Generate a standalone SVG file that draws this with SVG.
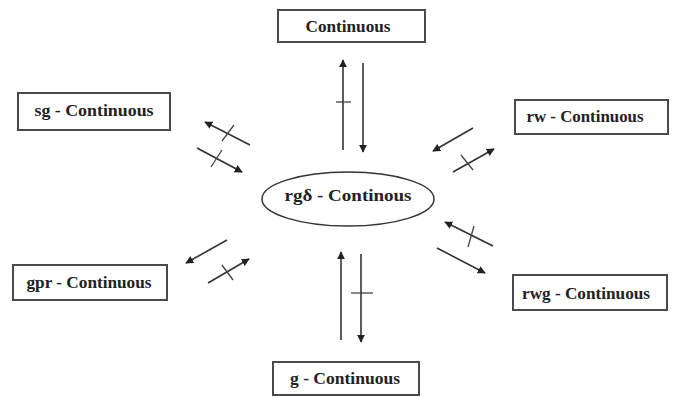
<svg xmlns="http://www.w3.org/2000/svg" width="675" height="397" viewBox="0 0 675 397">
<style>
.box{fill:#fff;stroke:#4a4a4a;stroke-width:2}
.lbl{font-family:"Liberation Serif","Times New Roman",serif;font-weight:bold;font-size:16px;fill:#222;text-anchor:middle}
.ln{stroke:#333;stroke-width:1.6;fill:none}
.tk{stroke:#444;stroke-width:1.3;fill:none}
</style>
<defs>
<marker id="ah" viewBox="0 0 10 10" refX="9" refY="5" markerWidth="8" markerHeight="8" markerUnits="userSpaceOnUse" orient="auto">
<path d="M0,0 L10,5 L0,10 z" fill="#222"/>
</marker>
</defs>
<rect width="675" height="397" fill="#fff"/>
<g id="top">
<rect class="box" x="278" y="10" width="147" height="32"/>
<text class="lbl" x="348" y="32" textLength="85" lengthAdjust="spacingAndGlyphs">Continuous</text>
</g>
<g id="sg">
<rect class="box" x="18" y="93" width="152" height="37"/>
<text class="lbl" x="94" y="116" textLength="119" lengthAdjust="spacingAndGlyphs">sg - Continuous</text>
</g>
<g id="rw">
<rect class="box" x="515" y="100" width="153" height="34"/>
<text class="lbl" x="585" y="122" textLength="117" lengthAdjust="spacingAndGlyphs">rw - Continuous</text>
</g>
<g id="center">
<ellipse cx="348" cy="199" rx="86" ry="27" fill="#fff" stroke="#333" stroke-width="1.5"/>
<text class="lbl" x="348" y="201" textLength="127" lengthAdjust="spacingAndGlyphs">rgδ - Continous</text>
</g>
<g id="gpr">
<rect class="box" x="13" y="265" width="154" height="35"/>
<text class="lbl" x="89" y="288" textLength="125" lengthAdjust="spacingAndGlyphs">gpr - Continuous</text>
</g>
<g id="rwg">
<rect class="box" x="513" y="275" width="154" height="35"/>
<text class="lbl" x="586" y="299" textLength="128" lengthAdjust="spacingAndGlyphs">rwg - Continuous</text>
</g>
<g id="g">
<rect class="box" x="273" y="362" width="146" height="33"/>
<text class="lbl" x="345" y="384" textLength="110" lengthAdjust="spacingAndGlyphs">g - Continuous</text>
</g>
<g id="connectors">
<line class="ln" x1="343" y1="150" x2="343" y2="60" marker-end="url(#ah)"/>
<line class="tk" x1="336" y1="102" x2="351" y2="102"/>
<line class="ln" x1="363" y1="63" x2="363" y2="152" marker-end="url(#ah)"/>
<line class="ln" x1="341" y1="340" x2="341" y2="252" marker-end="url(#ah)"/>
<line class="ln" x1="361" y1="254" x2="361" y2="342" marker-end="url(#ah)"/>
<line class="tk" x1="351" y1="293" x2="373" y2="293"/>
<line class="ln" x1="250" y1="145" x2="205" y2="122" marker-end="url(#ah)"/>
<line class="tk" x1="222" y1="141" x2="234" y2="125"/>
<line class="ln" x1="197" y1="148" x2="242" y2="172" marker-end="url(#ah)"/>
<line class="tk" x1="211" y1="167" x2="222" y2="150"/>
<line class="ln" x1="473" y1="128" x2="433" y2="151" marker-end="url(#ah)"/>
<line class="ln" x1="453" y1="172" x2="494" y2="149" marker-end="url(#ah)"/>
<line class="tk" x1="461" y1="155" x2="473" y2="170"/>
<line class="ln" x1="227" y1="240" x2="186" y2="263" marker-end="url(#ah)"/>
<line class="ln" x1="208" y1="283" x2="249" y2="259" marker-end="url(#ah)"/>
<line class="tk" x1="222" y1="265" x2="233" y2="280"/>
<line class="ln" x1="493" y1="246" x2="445" y2="222" marker-end="url(#ah)"/>
<line class="tk" x1="474" y1="226" x2="468" y2="247"/>
<line class="ln" x1="437" y1="248" x2="485" y2="273" marker-end="url(#ah)"/>
</g>
</svg>
